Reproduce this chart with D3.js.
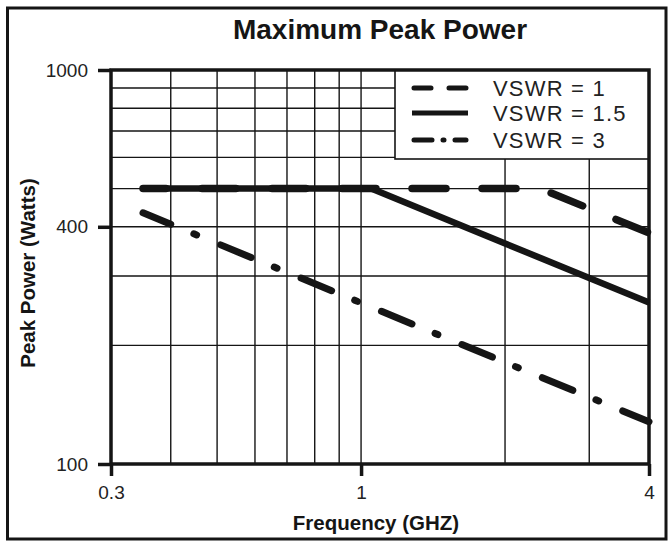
<!DOCTYPE html>
<html><head><meta charset="utf-8">
<script src="https://cdn.jsdelivr.net/npm/d3@7"></script>
<style>html,body{margin:0;padding:0;background:#fff;}svg{display:block;font-family:"Liberation Sans",Arial,sans-serif;}</style>
</head><body>
<svg id="c" width="668" height="541"></svg>
<script>
// ---- data ----
const seriesNames = ["VSWR = 1", "VSWR = 1.5", "VSWR = 3"];
const vswr1Freq = [0.35, 2.37, 4];
const vswr1Power = [500, 500, 386];
const vswr15Freq = [0.35, 1.05, 4];
const vswr15Power = [500, 500, 257];
const vswr3Freq = [0.35, 4];
const vswr3Power = [434, 128];
const xTickValues = [0.3, 1, 4];
const yTickValues = [100, 400, 1000];
const xGridValues = [0.4, 0.5, 0.6, 0.7, 0.8, 0.9, 1, 2, 3];
const yGridValues = [200, 300, 400, 500, 600, 700, 800, 900];

const svg = d3.select("#c");
const L = 111, R = 649, T = 70, B = 464;
const x = d3.scaleLog().domain([0.3, 4]).range([L, R]);
const y = d3.scaleLog().domain([100, 1000]).range([B, T]);
const ink = "#151515";

// outer border
svg.append("rect").attr("x", 7.5).attr("y", 8).attr("width", 658.5).attr("height", 531)
  .attr("fill", "none").attr("stroke", ink).attr("stroke-width", 3);

// title
svg.append("text").attr("x", 380).attr("y", 39).attr("text-anchor", "middle")
  .attr("font-size", 28).attr("font-weight", "bold").attr("fill", ink).text("Maximum Peak Power");

// grid
const g = svg.append("g");
g.selectAll(".vg").data(xGridValues).join("line")
  .attr("x1", d => x(d)).attr("x2", d => x(d)).attr("y1", T).attr("y2", B)
  .attr("stroke", ink).attr("stroke-width", 1.4);
g.selectAll(".hg").data(yGridValues).join("line")
  .attr("x1", L).attr("x2", R).attr("y1", d => y(d)).attr("y2", d => y(d))
  .attr("stroke", ink).attr("stroke-width", 1.4);

// legend box (covers grid)
const lg = svg.append("g");
lg.append("rect").attr("x", 395).attr("y", T).attr("width", R - 395).attr("height", 89)
  .attr("fill", "#fff").attr("stroke", ink).attr("stroke-width", 1.6);

// axes
const xAxis = d3.axisBottom(x).tickValues(xTickValues).tickSize(12).tickFormat(d3.format("~g"));
const yAxis = d3.axisLeft(y).tickValues(yTickValues).tickSize(13).tickFormat(d3.format("d"));
const xa = svg.append("g").attr("transform", `translate(0,${B})`).call(xAxis);
const ya = svg.append("g").attr("transform", `translate(${L},0)`).call(yAxis);
[xa, ya].forEach(a => {
  a.select(".domain").remove();
  a.selectAll(".tick line").attr("stroke", ink).attr("stroke-width", 3.5);
  a.selectAll(".tick text").attr("font-size", 19).attr("fill", "#222").attr("font-family", "Liberation Sans, Arial, sans-serif");
});
xa.selectAll(".tick text").attr("dy", "0.71em").attr("y", 22);
ya.selectAll(".tick text").attr("x", -23);

// plot frame
svg.append("rect").attr("x", L).attr("y", T).attr("width", R - L).attr("height", B - T)
  .attr("fill", "none").attr("stroke", ink).attr("stroke-width", 3.5);

// axis titles
svg.append("text").attr("x", 376).attr("y", 530).attr("text-anchor", "middle")
  .attr("font-size", 20.5).attr("font-weight", "bold").attr("fill", ink).text("Frequency (GHZ)");
svg.append("text").attr("transform", `translate(35,${273}) rotate(-90)`).attr("text-anchor", "middle")
  .attr("font-size", 20.5).attr("font-weight", "bold").attr("fill", ink).text("Peak Power (Watts)");

// lines
const line = d3.line().x(d => x(d[0])).y(d => y(d[1]));
const pts = (f, p) => f.map((v, i) => [v, p[i]]);
svg.append("path").datum(pts(vswr15Freq, vswr15Power)).attr("d", line)
  .attr("fill", "none").attr("stroke", ink).attr("stroke-width", 6.5).attr("stroke-linejoin", "round");
svg.append("path").datum(pts(vswr1Freq, vswr1Power)).attr("d", line)
  .attr("fill", "none").attr("stroke", ink).attr("stroke-width", 7.5)
  .attr("stroke-linecap", "round").attr("stroke-dasharray", "34,36").attr("stroke-dashoffset", 11);
svg.append("path").datum(pts(vswr3Freq, vswr3Power)).attr("d", line)
  .attr("fill", "none").attr("stroke", ink).attr("stroke-width", 7)
  .attr("stroke-linecap", "round").attr("stroke-dasharray", "33,25,3,26").attr("stroke-dashoffset", 3);

// legend entries
const legY = [88, 113, 140];
const legStyles = [
  {dash: "17,18", w: 5, cap: "round"},
  {dash: null, w: 5, cap: "butt"},
  {dash: "18,11,1,11", w: 5, cap: "round"}
];
seriesNames.forEach((n, i) => {
  const s = legStyles[i];
  const ln = lg.append("line").attr("x1", s.cap === "round" ? 414 : 412).attr("x2", s.cap === "round" ? 466 : 468)
    .attr("y1", legY[i]).attr("y2", legY[i]).attr("stroke", ink).attr("stroke-width", s.w)
    .attr("stroke-linecap", s.cap);
  if (s.dash) ln.attr("stroke-dasharray", s.dash);
  lg.append("text").attr("x", 493).attr("y", legY[i] + 7.5).attr("font-size", 22)
    .attr("letter-spacing", 1.2).attr("fill", "#222").text(n);
});
</script>
</body></html>
